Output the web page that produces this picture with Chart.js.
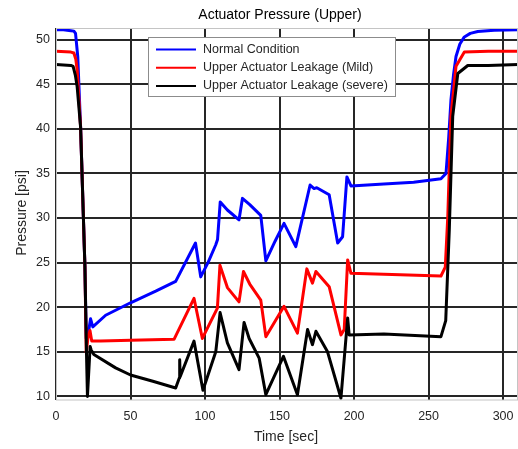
<!DOCTYPE html>
<html>
<head>
<meta charset="utf-8">
<title>Actuator Pressure (Upper)</title>
<script src="https://cdn.jsdelivr.net/npm/chart.js@4.4.0/dist/chart.umd.min.js"></script>
<style>
  html, body { margin: 0; padding: 0; background: #ffffff; }
  canvas { display: block; }
</style>
</head>
<body>
<canvas id="pressureChart" width="518" height="449"></canvas>
<script>
// Upper actuator pressure traces, time in sec, pressure in psi
const normalTime = [0, 5, 10, 12, 13.1, 14.6, 16.5, 19.4, 20.3, 21.2, 23.2, 24.7, 33.3, 50, 66.9, 80.3,
  93.6, 97.1, 102, 107.2, 108.4, 110.2, 115, 122.8, 125.1, 130, 137.4, 140.8, 147, 153, 160.9,
  170.5, 173.2, 175, 183.3, 189, 192.3, 195.2, 197.9, 220, 240, 258.3, 261.7, 263.5, 265, 266.7,
  268.4, 271, 274, 278, 283, 294, 310];
const normalPressure = [51.1, 51.1, 51.0, 50.95, 50.7, 48.1, 40.2, 24.6, 16.5, 16.6, 18.7, 17.8, 19.1, 20.5, 21.8, 22.9,
  27.2, 23.4, 25.0, 27.0, 27.6, 31.8, 30.9, 29.8, 32.2, 31.5, 30.3, 25.2, 27.4, 29.4, 26.8,
  33.7, 33.3, 33.4, 32.6, 27.2, 27.9, 34.6, 33.6, 33.8, 34.0, 34.4, 35.0, 39.0, 43.2, 46.0,
  48.1, 49.5, 50.3, 50.7, 50.9, 51.05, 51.1];

const mildTime = [0, 10, 12, 13.3, 14.2, 16.5, 19.4, 20.3, 21.4, 22.8, 24, 30, 50, 79.2, 92.6, 98.2,
  108.3, 110, 115, 122.8, 125.8, 130, 137.4, 140.8, 153, 162, 168.3, 172.1, 174.4, 183.3, 191.2,
  193.4, 195.7, 197.9, 220, 258.3, 261.2, 262.9, 265, 268.4, 274, 290, 310];
const mildPressure = [48.7, 48.6, 48.5, 47.8, 46.6, 40.2, 24.6, 14.9, 16.5, 17.4, 16.2, 16.2, 16.3, 16.4, 21.0, 16.5,
  19.9, 24.7, 22.2, 20.6, 24.0, 22.6, 20.8, 16.7, 20.1, 17.1, 24.3, 22.7, 24.0, 22.3, 16.9,
  17.5, 25.3, 23.8, 23.7, 23.5, 24.5, 30.2, 41.4, 47.0, 48.6, 48.7, 48.7];

const severeTime = [0, 10, 11.5, 13, 14.2, 16.5, 19.4, 20.5, 21.1, 22.9, 23.6, 25.4, 40, 50, 65, 80.3,
  82.8, 83, 83.3, 92.6, 98.6, 107.2, 110.1, 115, 122.8, 126.2, 129.6, 136.3, 140.8, 152.6, 162,
  168.8, 172.1, 174.4, 182.2, 191.2, 195.7, 196.7, 220, 258.3, 261.5, 263.9, 266.2, 269.6, 276.3,
  290, 310];
const severePressure = [47.2, 47.1, 47.0, 46.0, 44.7, 40.2, 24.6, 14.5, 10.0, 15.6, 15.2, 14.7, 13.2, 12.4, 11.7, 10.95,
  12.1, 14.1, 12.2, 16.2, 10.7, 15.0, 19.4, 16.0, 13.0, 18.3, 16.5, 14.3, 10.2, 14.5, 10.2,
  17.5, 15.8, 17.3, 15.0, 9.8, 18.8, 16.9, 17.0, 16.7, 18.5, 28.7, 41.4, 46.2, 47.1,
  47.1, 47.2];

const seriesLabels = ['Normal Condition', 'Upper Actuator Leakage (Mild)', 'Upper Actuator Leakage (severe)'];
const timeTicks = [0, 50, 100, 150, 200, 250, 300];
const pressureTicks = [10, 15, 20, 25, 30, 35, 40, 45, 50];

const TEXT = '#262626';
const FONT = 'Arial, "Liberation Sans", sans-serif';

const toPoints = (xs, ys) => xs.map((x, i) => ({ x: x, y: ys[i] }));

// Title, axis labels, outer box and the in-plot legend
const decorations = {
  id: 'decorations',
  afterDraw(chart) {
    const { ctx, chartArea: a } = chart;
    ctx.save();

    ctx.strokeStyle = '#c4c4c4';
    ctx.lineWidth = 1;
    ctx.strokeRect(a.left + 0.5, a.top + 0.5, a.right - a.left - 1, a.bottom - a.top - 0.5);

    ctx.fillStyle = '#000';
    ctx.font = '14px ' + FONT;
    ctx.textAlign = 'center';
    ctx.textBaseline = 'middle';
    ctx.fillText('Actuator Pressure (Upper)', 280, 15);

    ctx.fillStyle = TEXT;
    ctx.fillText('Time [sec]', 286, 437);
    ctx.translate(22, 213);
    ctx.rotate(-Math.PI / 2);
    ctx.fillText('Pressure [psi]', 0, 0);
    ctx.setTransform(1, 0, 0, 1, 0, 0);

    // legend box
    const lx = 148, ly = 37, lw = 247, lh = 59;
    ctx.fillStyle = '#ffffff';
    ctx.fillRect(lx, ly, lw, lh);
    ctx.strokeStyle = '#8c8c8c';
    ctx.strokeRect(lx + 0.5, ly + 0.5, lw, lh);

    ctx.font = '12.5px ' + FONT;
    ctx.textAlign = 'left';
    chart.data.datasets.forEach((ds, i) => {
      const y = 49.5 + i * 18.2;
      ctx.strokeStyle = ds.borderColor;
      ctx.lineWidth = 2;
      ctx.beginPath();
      ctx.moveTo(156, y);
      ctx.lineTo(196, y);
      ctx.stroke();
      ctx.fillStyle = TEXT;
      ctx.fillText(ds.label, 203, y);
    });
    ctx.restore();
  }
};

const gridStyle = { color: TEXT, lineWidth: 2, drawTicks: false };
const tickStyle = { color: TEXT, font: { family: FONT, size: 12.5 } };

new Chart(document.getElementById('pressureChart'), {
  type: 'line',
  data: {
    datasets: [
      { label: seriesLabels[0], data: toPoints(normalTime, normalPressure), borderColor: '#0000ff', order: 3 },
      { label: seriesLabels[1], data: toPoints(mildTime, mildPressure), borderColor: '#ff0000', order: 2 },
      { label: seriesLabels[2], data: toPoints(severeTime, severePressure), borderColor: '#000000', order: 1 }
    ]
  },
  options: {
    responsive: false,
    devicePixelRatio: 1,
    animation: false,
    layout: { padding: { top: 28, right: 0, bottom: 0, left: 0 } },
    elements: {
      line: { borderWidth: 3, tension: 0, borderJoinStyle: 'round', borderCapStyle: 'round', fill: false },
      point: { radius: 0 }
    },
    scales: {
      x: {
        type: 'linear', min: 0, max: 310,
        grid: gridStyle,
        border: { display: false },
        ticks: Object.assign({ padding: 9, maxRotation: 0 }, tickStyle),
        afterBuildTicks: axis => { axis.ticks = timeTicks.map(v => ({ value: v })); },
        afterFit: scale => {
          scale.height = 49;
          scale.paddingLeft = 0;
          scale.paddingRight = 0;
        }
      },
      y: {
        type: 'linear', min: 9.6, max: 51.3,
        grid: gridStyle,
        border: { display: false },
        ticks: Object.assign({ padding: 6 }, tickStyle),
        afterBuildTicks: axis => { axis.ticks = pressureTicks.map(v => ({ value: v })); },
        afterFit: scale => {
          scale.width = 56;
          scale.paddingTop = 0;
          scale.paddingBottom = 0;
        }
      }
    },
    plugins: {
      legend: { display: false },
      title: { display: false },
      tooltip: { enabled: false }
    }
  },
  plugins: [decorations]
});
</script>
</body>
</html>
